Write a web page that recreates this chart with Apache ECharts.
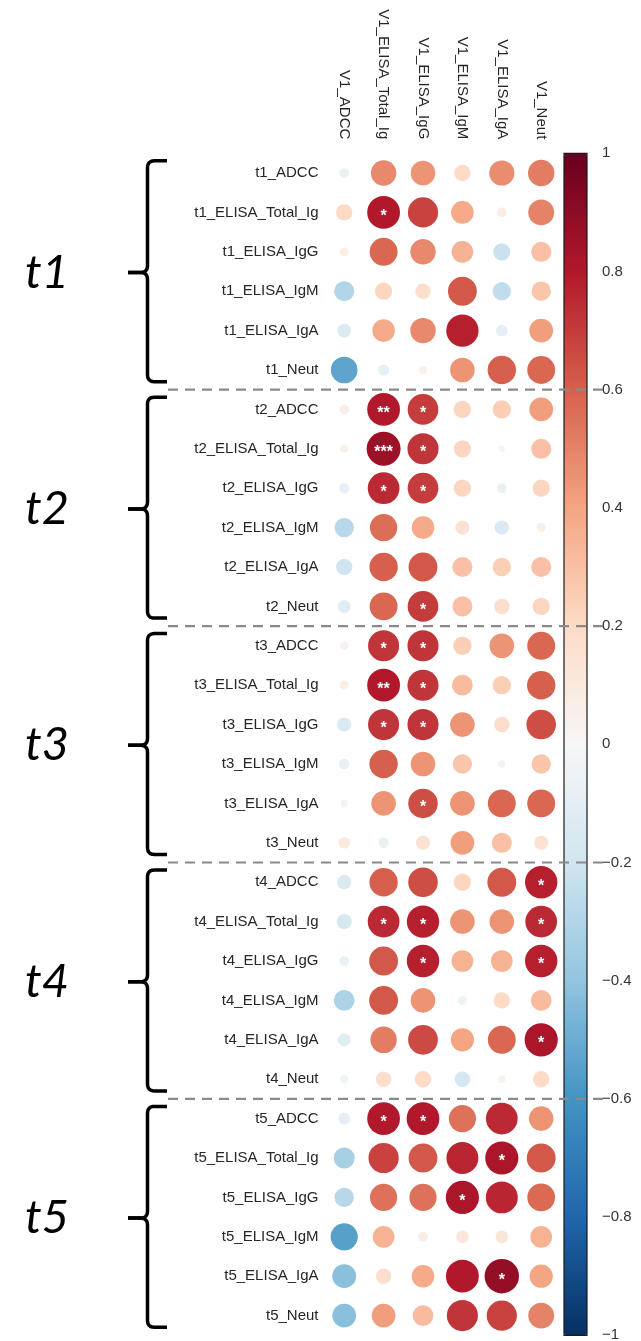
<!DOCTYPE html>
<html><head><meta charset="utf-8">
<script src="https://cdn.jsdelivr.net/npm/echarts@6/dist/echarts.min.js"></script>
<style>html,body{margin:0;padding:0;background:#fff}#c{width:641px;height:1341px}</style>
</head><body><div id="c"></div>
<script>
// ---------- data ----------
const colLabels = ['V1_ADCC','V1_ELISA_Total_Ig','V1_ELISA_IgG','V1_ELISA_IgM','V1_ELISA_IgA','V1_Neut'];
const groupNames = ['t1','t2','t3','t4','t5'];
const rowLabels = [
  't1_ADCC','t1_ELISA_Total_Ig','t1_ELISA_IgG','t1_ELISA_IgM','t1_ELISA_IgA','t1_Neut',
  't2_ADCC','t2_ELISA_Total_Ig','t2_ELISA_IgG','t2_ELISA_IgM','t2_ELISA_IgA','t2_Neut',
  't3_ADCC','t3_ELISA_Total_Ig','t3_ELISA_IgG','t3_ELISA_IgM','t3_ELISA_IgA','t3_Neut',
  't4_ADCC','t4_ELISA_Total_Ig','t4_ELISA_IgG','t4_ELISA_IgM','t4_ELISA_IgA','t4_Neut',
  't5_ADCC','t5_ELISA_Total_Ig','t5_ELISA_IgG','t5_ELISA_IgM','t5_ELISA_IgA','t5_Neut'
];
const t1Values = [
  [-0.07, 0.48, 0.45, 0.20, 0.47, 0.52],
  [ 0.20, 0.80, 0.68, 0.38, 0.07, 0.50],
  [ 0.06, 0.58, 0.48, 0.35,-0.22, 0.30],
  [-0.30, 0.22, 0.18, 0.62,-0.25, 0.28],
  [-0.14, 0.38, 0.48, 0.78,-0.10, 0.42],
  [-0.53,-0.09, 0.05, 0.45, 0.60, 0.58]
];
const t2Values = [
  [ 0.07, 0.80, 0.70, 0.22, 0.25, 0.42],
  [ 0.05, 0.86, 0.72, 0.22, 0.03, 0.30],
  [-0.08, 0.75, 0.70, 0.22,-0.07, 0.22],
  [-0.28, 0.56, 0.38, 0.15,-0.15, 0.06],
  [-0.20, 0.60, 0.62, 0.30, 0.25, 0.30],
  [-0.12, 0.58, 0.70, 0.30, 0.18, 0.22]
];
const t3Values = [
  [ 0.05, 0.72, 0.72, 0.25, 0.45, 0.58],
  [ 0.06, 0.80, 0.72, 0.32, 0.25, 0.60],
  [-0.15, 0.72, 0.72, 0.45, 0.18, 0.65],
  [-0.08, 0.60, 0.45, 0.28, 0.04, 0.28],
  [ 0.04, 0.45, 0.65, 0.45, 0.58, 0.58],
  [ 0.10,-0.08, 0.15, 0.42, 0.30, 0.15]
];
const t4Values = [
  [-0.15, 0.60, 0.65, 0.22, 0.62, 0.78],
  [-0.17, 0.75, 0.78, 0.45, 0.45, 0.75],
  [-0.07, 0.62, 0.78, 0.35, 0.35, 0.78],
  [-0.32, 0.62, 0.45,-0.06, 0.20, 0.32],
  [-0.12, 0.52, 0.66, 0.40, 0.58, 0.82],
  [-0.05, 0.18, 0.20,-0.18, 0.04, 0.20]
];
const t5Values = [
  [-0.10, 0.80, 0.80, 0.55, 0.75, 0.45],
  [-0.33, 0.68, 0.62, 0.76, 0.82, 0.62],
  [-0.28, 0.55, 0.55, 0.82, 0.76, 0.57],
  [-0.55, 0.35, 0.07, 0.12, 0.12, 0.35],
  [-0.42, 0.18, 0.38, 0.80, 0.88, 0.40],
  [-0.42, 0.42, 0.32, 0.72, 0.68, 0.50]
];
// significance marks: [row, column, stars]
const significance = [
  ['t1_ELISA_Total_Ig','V1_ELISA_Total_Ig','*'],
  ['t2_ADCC','V1_ELISA_Total_Ig','**'], ['t2_ADCC','V1_ELISA_IgG','*'],
  ['t2_ELISA_Total_Ig','V1_ELISA_Total_Ig','***'], ['t2_ELISA_Total_Ig','V1_ELISA_IgG','*'],
  ['t2_ELISA_IgG','V1_ELISA_Total_Ig','*'], ['t2_ELISA_IgG','V1_ELISA_IgG','*'],
  ['t2_Neut','V1_ELISA_IgG','*'],
  ['t3_ADCC','V1_ELISA_Total_Ig','*'], ['t3_ADCC','V1_ELISA_IgG','*'],
  ['t3_ELISA_Total_Ig','V1_ELISA_Total_Ig','**'], ['t3_ELISA_Total_Ig','V1_ELISA_IgG','*'],
  ['t3_ELISA_IgG','V1_ELISA_Total_Ig','*'], ['t3_ELISA_IgG','V1_ELISA_IgG','*'],
  ['t3_ELISA_IgA','V1_ELISA_IgG','*'],
  ['t4_ADCC','V1_Neut','*'],
  ['t4_ELISA_Total_Ig','V1_ELISA_Total_Ig','*'], ['t4_ELISA_Total_Ig','V1_ELISA_IgG','*'], ['t4_ELISA_Total_Ig','V1_Neut','*'],
  ['t4_ELISA_IgG','V1_ELISA_IgG','*'], ['t4_ELISA_IgG','V1_Neut','*'],
  ['t4_ELISA_IgA','V1_Neut','*'],
  ['t5_ADCC','V1_ELISA_Total_Ig','*'], ['t5_ADCC','V1_ELISA_IgG','*'],
  ['t5_ELISA_Total_Ig','V1_ELISA_IgA','*'],
  ['t5_ELISA_IgG','V1_ELISA_IgM','*'],
  ['t5_ELISA_IgA','V1_ELISA_IgA','*']
];
const colorbarTicks = [-1,-0.8,-0.6,-0.4,-0.2,0,0.2,0.4,0.6,0.8,1];
const rdbu = ['#053061','#2166ac','#4393c3','#92c5de','#d1e5f0','#f7f7f7','#fddbc7','#f4a582','#d6604d','#b2182b','#67001f'];

// ---------- build ----------
const allValues = [].concat(t1Values, t2Values, t3Values, t4Values, t5Values);
const starMap = {};
significance.forEach(s => { starMap[s[0] + '|' + s[1]] = s[2]; });
const points = [];
allValues.forEach((row, r) => row.forEach((v, c) => {
  points.push([colLabels[c], rowLabels[r], v, starMap[rowLabels[r] + '|' + colLabels[c]] || '']);
}));

const GRID_LEFT = 324.5, GRID_TOP = 153.3, CELL = 39.4;
const GRID_W = CELL * colLabels.length, GRID_H = CELL * rowLabels.length;
const CB_LEFT = 564, CB_W = 23;
const FONT = "'Liberation Sans', Arial, Helvetica, sans-serif";

const chart = echarts.init(document.getElementById('c'), null, {renderer: 'canvas'});
chart.setOption({
  backgroundColor: '#fff',
  animation: false,
  grid: [
    {left: GRID_LEFT, top: GRID_TOP, width: GRID_W, height: GRID_H, outerBoundsMode: 'none'},
    {left: CB_LEFT, top: GRID_TOP, width: CB_W, height: GRID_H, outerBoundsMode: 'none'}
  ],
  xAxis: [
    {type: 'category', gridIndex: 0, data: colLabels, position: 'top',
     axisLine: {show: false}, axisTick: {show: false}, splitLine: {show: false},
     axisLabel: {rotate: 90, margin: 14, fontSize: 15, color: '#262626', fontFamily: FONT, interval: 0}},
    {type: 'value', gridIndex: 1, show: false, min: 0, max: 1}
  ],
  yAxis: [
    {type: 'category', gridIndex: 0, data: rowLabels, inverse: true,
     axisLine: {show: false}, axisTick: {show: false}, splitLine: {show: false},
     axisLabel: {margin: 6, fontSize: 15, color: '#262626', fontFamily: FONT, interval: 0}},
    {type: 'value', gridIndex: 1, min: -1, max: 1, interval: 0.2, position: 'right',
     axisLine: {show: false}, splitLine: {show: false},
     axisTick: {show: true, length: 5, lineStyle: {color: '#222', width: 1}},
     axisLabel: {margin: 15, fontSize: 15, color: '#333', fontFamily: FONT,
       formatter: v => {
         const r = Math.round(v * 10) / 10;
         return colorbarTicks.indexOf(r) >= 0 ? String(r).replace('-', '\u2212') : '';
       }}}
  ],
  visualMap: {
    type: 'continuous', min: -1, max: 1, dimension: 2, seriesIndex: 0,
    calculable: false, orient: 'vertical', left: CB_LEFT, top: GRID_TOP,
    itemWidth: CB_W, itemHeight: GRID_H, padding: 0, text: null, showLabel: false,
    inRange: {color: rdbu}, hoverLink: false
  },
  series: [{
    type: 'scatter', xAxisIndex: 0, yAxisIndex: 0, data: points,
    symbol: 'circle',
    symbolSize: d => CELL * 0.93 * Math.sqrt(Math.abs(d[2])),
    itemStyle: {opacity: 1},
    label: {show: true, position: 'inside', color: '#fff', fontSize: 16, fontWeight: 'bold',
      fontFamily: FONT, offset: [0, 4], formatter: p => p.data[3]},
    emphasis: {disabled: true}
  }]
});

// ---------- annotations: braces, group labels, dashed separators, colorbar frame ----------
function rowY(i) { return chart.convertToPixel({yAxisIndex: 0}, rowLabels[i]); }
const half = (rowY(1) - rowY(0)) / 2;
const elements = [];
function quad(p0, c, p1, n) {
  const pts = [];
  for (let k = 1; k <= n; k++) {
    const t = k / n;
    pts.push([(1-t)*(1-t)*p0[0] + 2*(1-t)*t*c[0] + t*t*p1[0],
              (1-t)*(1-t)*p0[1] + 2*(1-t)*t*c[1] + t*t*p1[1]]);
  }
  return pts;
}
const X0 = 147.5, XR = 167, XL = 128, RC = 7;
groupNames.forEach((g, gi) => {
  const yTop = rowY(gi * 6) - half, yBot = rowY(gi * 6 + 5) + half;
  const t = yTop + 7.5, b = yBot - 8, m = (yTop + yBot) / 2 + 1;
  let pts = [[XR, t], [X0 + RC, t]];
  pts = pts.concat(quad([X0 + RC, t], [X0, t], [X0, t + RC], 6));
  pts.push([X0, m - RC]);
  pts = pts.concat(quad([X0, m - RC], [X0, m], [X0 - RC, m], 6));
  pts.push([XL, m]);
  elements.push({type: 'polyline', z: 100, shape: {points: pts},
    style: {stroke: '#000', lineWidth: 3.5, fill: null, lineJoin: 'round'}});
  let pts2 = [[XL, m], [X0 - RC, m]];
  pts2 = pts2.concat(quad([X0 - RC, m], [X0, m], [X0, m + RC], 6));
  pts2.push([X0, b - RC]);
  pts2 = pts2.concat(quad([X0, b - RC], [X0, b], [X0 + RC, b], 6));
  pts2.push([XR, b]);
  elements.push({type: 'polyline', z: 100, shape: {points: pts2},
    style: {stroke: '#000', lineWidth: 3.5, fill: null, lineJoin: 'round'}});
  elements.push({type: 'text', z: 100, x: 47, y: m,
    style: {text: g, font: "italic 47px Lato, 'Open Sans', sans-serif", fill: '#000',
      align: 'center', verticalAlign: 'middle'}});
  if (gi < groupNames.length - 1) {
    elements.push({type: 'line', z: 101, shape: {x1: 168, y1: yBot, x2: 603, y2: yBot},
      style: {stroke: '#8a8a8a', lineWidth: 2.2, lineDash: [10, 7]}});
  }
});
elements.push({type: 'rect', z: 99, shape: {x: CB_LEFT, y: GRID_TOP, width: CB_W, height: GRID_H},
  style: {stroke: '#1a1a1a', lineWidth: 1.2, fill: null}});
chart.setOption({graphic: {elements: elements}});
</script>
</body></html>
